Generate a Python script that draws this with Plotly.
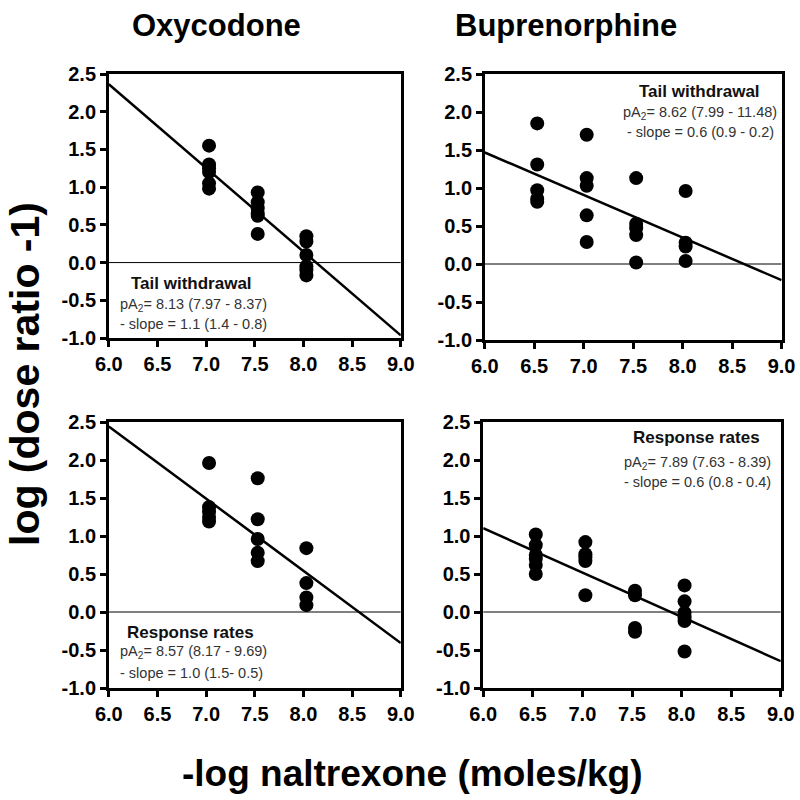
import plotly.graph_objects as go
import numpy as np

FONT = "Liberation Sans, Arial, sans-serif"

# Data: x = -log naltrexone (moles/kg), y = log(dose ratio - 1)
oxy_tail_x = [7.03]*6 + [7.53]*6 + [8.03]*6
oxy_tail_y = [1.55, 1.30, 1.25, 1.20, 1.05, 0.98,
              0.93, 0.80, 0.72, 0.65, 0.62, 0.38,
              0.35, 0.28, 0.10, -0.05, -0.10, -0.17]

bup_tail_x = [6.53]*5 + [7.03]*5 + [7.53]*5 + [8.03]*4
bup_tail_y = [1.85, 1.31, 0.97, 0.86, 0.82,
              1.70, 1.13, 1.03, 0.64, 0.29,
              1.13, 0.53, 0.47, 0.38, 0.02,
              0.96, 0.28, 0.23, 0.04]

oxy_resp_x = [7.03]*5 + [7.53]*5 + [8.03]*4
oxy_resp_y = [1.96, 1.38, 1.32, 1.25, 1.19,
              1.76, 1.22, 0.96, 0.78, 0.67,
              0.84, 0.38, 0.19, 0.09]

bup_resp_x = [6.53]*6 + [7.03]*5 + [7.53]*4 + [8.03]*6
bup_resp_y = [1.02, 0.88, 0.75, 0.70, 0.62, 0.50,
              0.92, 0.76, 0.72, 0.67, 0.22,
              0.28, 0.22, -0.21, -0.26,
              0.35, 0.14, -0.01, -0.07, -0.12, -0.52]

# Schild regression: y = slope * (pA2 - x)
fit_pA2 = [8.13, 8.62, 8.57, 7.89]
fit_slope = [1.11, 0.56, 0.95, 0.583]

panel_labels = ["Tail withdrawal", "Tail withdrawal", "Response rates", "Response rates"]
panel_pa2_text = ["pA<sub>2</sub>= 8.13 (7.97 - 8.37)", "pA<sub>2</sub>= 8.62 (7.99 - 11.48)",
                  "pA<sub>2</sub>= 8.57 (8.17 - 9.69)", "pA<sub>2</sub>= 7.89 (7.63 - 8.39)"]
panel_slope_text = ["- slope = 1.1 (1.4 - 0.8)", "- slope = 0.6 (0.9 - 0.2)",
                    "- slope = 1.0 (1.5- 0.5)", "- slope = 0.6 (0.8 - 0.4)"]

x_ticks = [6.0, 6.5, 7.0, 7.5, 8.0, 8.5, 9.0]
y_ticks = [-1.0, -0.5, 0.0, 0.5, 1.0, 1.5, 2.0, 2.5]

datasets = [(oxy_tail_x, oxy_tail_y), (bup_tail_x, bup_tail_y),
            (oxy_resp_x, oxy_resp_y), (bup_resp_x, bup_resp_y)]

xdomains = [[0.136, 0.501], [0.606, 0.977], [0.136, 0.501], [0.604, 0.976]]
ydomains = [[0.5775, 0.9075], [0.575, 0.9075], [0.14, 0.4725], [0.14, 0.4725]]

fig = go.Figure()
layout = {}
for i, ((xs, ys), xd, yd) in enumerate(zip(datasets, xdomains, ydomains)):
    n = "" if i == 0 else str(i + 1)
    xa, ya = "x" + n, "y" + n
    fig.add_trace(go.Scatter(x=[6.0, 9.0], y=[0, 0], mode="lines", xaxis=xa, yaxis=ya,
                             line=dict(color="black", width=1), showlegend=False))
    lx = np.array([6.0, 9.0])
    ly = fit_slope[i] * (fit_pA2[i] - lx)
    fig.add_trace(go.Scatter(x=lx, y=ly, mode="lines", xaxis=xa, yaxis=ya,
                             line=dict(color="black", width=2.5), showlegend=False))
    fig.add_trace(go.Scatter(x=xs, y=ys, mode="markers", xaxis=xa, yaxis=ya,
                             marker=dict(size=14, color="black"), showlegend=False,
                             cliponaxis=False))
    layout["xaxis" + n] = dict(domain=xd, range=[6.0, 9.0], tickvals=x_ticks,
                               ticktext=[f"<b>{v:.1f}</b>" for v in x_ticks],
                               showgrid=False, zeroline=False, showline=True, mirror=True,
                               linecolor="black", linewidth=2.5, ticks="outside",
                               ticklen=6, tickwidth=2.5, tickcolor="black",
                               tickfont=dict(family=FONT, size=20, color="black"),
                               anchor=ya, automargin=False)
    layout["yaxis" + n] = dict(domain=yd, range=[-1.0, 2.5], tickvals=y_ticks,
                               ticktext=[f"<b>{v:.1f}</b>" for v in y_ticks],
                               showgrid=False, zeroline=False, showline=True, mirror=True,
                               linecolor="black", linewidth=2.5, ticks="outside",
                               ticklen=6, tickwidth=2.5, tickcolor="black",
                               tickfont=dict(family=FONT, size=20, color="black"),
                               anchor=xa, automargin=False)

fig.update_layout(**layout)

ann = []
# Text blocks: positions in axis domain coordinates
text_pos = [
    # (axis, label_x, label_anchor, info_x, info_anchor, [label_y, pa2_y, slope_y])
    ("x", "y", 0.068, "left", 0.031, "left", [0.205, 0.125, 0.053]),
    ("x2", "y2", 0.724, "center", 0.726, "center", [0.936, 0.853, 0.782]),
    ("x3", "y3", 0.055, "left", 0.031, "left", [0.21, 0.135, 0.056]),
    ("x4", "y4", 0.718, "center", 0.72, "center", [0.94, 0.846, 0.774]),
]
for i, (xr, yr, lxp, la, ixp, ia, ys) in enumerate(text_pos):
    ann.append(dict(x=lxp, y=ys[0], xref=xr + " domain", yref=yr + " domain",
                    text="<b>" + panel_labels[i] + "</b>", showarrow=False,
                    xanchor=la, yanchor="middle",
                    font=dict(family=FONT, size=17, color="#111")))
    ann.append(dict(x=ixp, y=ys[1], xref=xr + " domain", yref=yr + " domain",
                    text=panel_pa2_text[i], showarrow=False, xanchor=ia, yanchor="middle",
                    font=dict(family=FONT, size=14.5, color="#333")))
    ann.append(dict(x=ixp, y=ys[2], xref=xr + " domain", yref=yr + " domain",
                    text=panel_slope_text[i], showarrow=False, xanchor=ia, yanchor="middle",
                    font=dict(family=FONT, size=14.5, color="#333")))

ann.append(dict(x=216/800, y=1 - 26/800, xref="paper", yref="paper", text="<b>Oxycodone</b>",
                showarrow=False, xanchor="center", yanchor="middle",
                font=dict(family=FONT, size=31, color="black")))
ann.append(dict(x=566/800, y=1 - 26/800, xref="paper", yref="paper", text="<b>Buprenorphine</b>",
                showarrow=False, xanchor="center", yanchor="middle",
                font=dict(family=FONT, size=31, color="black")))
ann.append(dict(x=412/800, y=1 - 773/800, xref="paper", yref="paper",
                text="<b>-log naltrexone (moles/kg)</b>",
                showarrow=False, xanchor="center", yanchor="middle",
                font=dict(family=FONT, size=37, color="black")))
ann.append(dict(x=25/800, y=1 - 374/800, xref="paper", yref="paper",
                text="<b>log (dose ratio -1)</b>", textangle=-90,
                showarrow=False, xanchor="center", yanchor="middle",
                font=dict(family=FONT, size=41, color="black")))

fig.update_layout(annotations=ann, width=800, height=800,
                  margin=dict(l=0, r=0, t=0, b=0),
                  paper_bgcolor="white", plot_bgcolor="white")

fig.write_html("out.html", config={"displayModeBar": False},
               post_script="document.body.style.margin='0';document.body.style.overflow='hidden';")
